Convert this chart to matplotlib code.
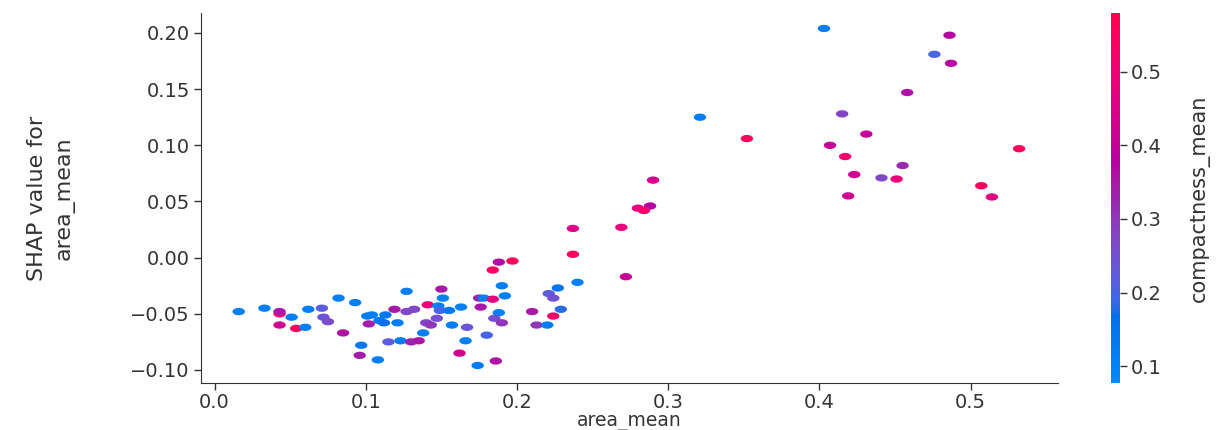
import numpy as np
import matplotlib
matplotlib.use("Agg")
import matplotlib.pyplot as plt
from matplotlib.colors import LinearSegmentedColormap
from matplotlib.path import Path
from matplotlib import font_manager

# ---------------- data ----------------
area_mean = [0.403, 0.321, 0.352, 0.415, 0.431, 0.407, 0.417, 0.423, 0.441, 0.419,
             0.486, 0.476, 0.487, 0.458, 0.532, 0.455, 0.451, 0.507, 0.514, 0.290,
             0.288, 0.280, 0.284, 0.237, 0.269, 0.237, 0.272, 0.240, 0.188, 0.197,
             0.184, 0.190, 0.227, 0.221, 0.224, 0.150, 0.151, 0.192, 0.175, 0.178,
             0.184, 0.141, 0.148, 0.149, 0.155, 0.176, 0.163, 0.210, 0.224, 0.229,
             0.188, 0.147, 0.185, 0.190, 0.157, 0.213, 0.220, 0.167, 0.180, 0.166,
             0.162, 0.186, 0.174, 0.082, 0.093, 0.127, 0.119, 0.127, 0.132, 0.101,
             0.104, 0.113, 0.109, 0.112, 0.121, 0.102, 0.140, 0.143, 0.138, 0.085,
             0.097, 0.115, 0.123, 0.130, 0.135, 0.096, 0.108, 0.016, 0.033, 0.043,
             0.043, 0.051, 0.062, 0.071, 0.072, 0.075, 0.043, 0.054, 0.060]
shap_area_mean = [0.204, 0.125, 0.106, 0.128, 0.110, 0.100, 0.090, 0.074, 0.071, 0.055,
                  0.198, 0.181, 0.173, 0.147, 0.097, 0.082, 0.070, 0.064, 0.054, 0.069,
                  0.046, 0.044, 0.042, 0.026, 0.027, 0.003, -0.017, -0.022, -0.004, -0.003,
                  -0.011, -0.025, -0.027, -0.032, -0.036, -0.028, -0.036, -0.034, -0.036, -0.036,
                  -0.037, -0.042, -0.043, -0.047, -0.047, -0.044, -0.044, -0.048, -0.052, -0.046,
                  -0.049, -0.054, -0.054, -0.058, -0.060, -0.060, -0.060, -0.062, -0.069, -0.074,
                  -0.085, -0.092, -0.096, -0.036, -0.040, -0.030, -0.046, -0.048, -0.046, -0.052,
                  -0.051, -0.051, -0.056, -0.058, -0.058, -0.059, -0.058, -0.060, -0.067, -0.067,
                  -0.078, -0.075, -0.074, -0.075, -0.074, -0.087, -0.091, -0.048, -0.045, -0.050,
                  -0.048, -0.053, -0.046, -0.045, -0.053, -0.057, -0.060, -0.063, -0.062]
compactness_mean = [0.12, 0.12, 0.55, 0.28, 0.40, 0.40, 0.52, 0.42, 0.27, 0.42,
                    0.37, 0.20, 0.37, 0.36, 0.56, 0.32, 0.48, 0.55, 0.46, 0.43,
                    0.37, 0.47, 0.52, 0.45, 0.48, 0.55, 0.40, 0.12, 0.36, 0.55,
                    0.53, 0.12, 0.15, 0.22, 0.25, 0.35, 0.12, 0.12, 0.33, 0.12,
                    0.47, 0.47, 0.12, 0.20, 0.14, 0.35, 0.12, 0.35, 0.52, 0.18,
                    0.12, 0.25, 0.25, 0.30, 0.12, 0.30, 0.13, 0.24, 0.20, 0.12,
                    0.42, 0.36, 0.13, 0.12, 0.12, 0.12, 0.35, 0.27, 0.27, 0.13,
                    0.13, 0.14, 0.13, 0.17, 0.13, 0.34, 0.28, 0.30, 0.12, 0.36,
                    0.14, 0.22, 0.13, 0.33, 0.35, 0.34, 0.12, 0.12, 0.12, 0.52,
                    0.35, 0.12, 0.12, 0.22, 0.24, 0.26, 0.43, 0.55, 0.12]

x_ticks = [0.0, 0.1, 0.2, 0.3, 0.4, 0.5]
y_ticks = [-0.10, -0.05, 0.00, 0.05, 0.10, 0.15, 0.20]
cbar_ticks = [0.1, 0.2, 0.3, 0.4, 0.5]


# ---------------- SHAP red_blue colormap (LCH interpolation) ----------------
def lch2rgb(L, C, H):
    a = C * np.cos(H)
    b = C * np.sin(H)
    fy = (L + 16) / 116.0
    fx = fy + a / 500.0
    fz = fy - b / 200.0
    d = 6 / 29

    def finv(t):
        return np.where(t > d, t ** 3, 3 * d * d * (t - 4 / 29))
    X = 0.95047 * finv(fx)
    Y = 1.0 * finv(fy)
    Z = 1.08883 * finv(fz)
    M = np.array([[3.2406, -1.5372, -0.4986],
                  [-0.9689, 1.8758, 0.0415],
                  [0.0557, -0.2040, 1.0570]])
    lin = M @ np.array([X, Y, Z])
    lin = np.clip(lin, 0, 1)
    rgb = np.where(lin <= 0.0031308, 12.92 * lin, 1.055 * lin ** (1 / 2.4) - 0.055)
    return np.clip(rgb, 0, 1)


blue_lch = [54., 70., 4.6588]
red_lch = [54., 90., 0.35470565 + 2 * np.pi]
l_mid = 40.
nsteps = 100
l_vals = list(np.linspace(blue_lch[0], l_mid, nsteps // 2)) + list(np.linspace(l_mid, red_lch[0], nsteps // 2))
c_vals = np.linspace(blue_lch[1], red_lch[1], nsteps)
h_vals = np.linspace(blue_lch[2], red_lch[2], nsteps)
cols = [lch2rgb(l, c, h) for l, c, h in zip(l_vals, c_vals, h_vals)]
red_blue = LinearSegmentedColormap.from_list("red_blue", cols)

# ---------------- fonts ----------------
names = {f.name for f in font_manager.fontManager.ttflist}
narrow = ['Liberation Sans Narrow', 'DejaVu Sans'] if 'Liberation Sans Narrow' in names else ['DejaVu Sans']
axis_color = "#333333"

# ellipse marker (wider than tall)
theta = np.linspace(0, 2 * np.pi, 40)
ell = Path(np.column_stack([1.7 * np.cos(theta), np.sin(theta)]), closed=True)

fig = plt.figure(figsize=(12.25, 4.3), dpi=100)
ax = fig.add_axes([0.164, 0.1093, 0.700, 0.8605])
cax = fig.add_axes([0.907, 0.1093, 0.0073, 0.8605])

sc = ax.scatter(area_mean, shap_area_mean, c=compactness_mean, cmap=red_blue,
                vmin=0.077, vmax=0.580, s=80, marker=ell, linewidths=0)

ax.set_xlim(-0.009, 0.558)
ax.set_ylim(-0.1116, 0.2178)
ax.set_xticks(x_ticks)
ax.set_yticks(y_ticks)
ax.set_xticklabels([f"{v:.1f}" for v in x_ticks])
ax.set_yticklabels([f"{v:.2f}".replace("-", "\u2212") for v in y_ticks])
for s in ["top", "right"]:
    ax.spines[s].set_visible(False)
for s in ["left", "bottom"]:
    ax.spines[s].set_color(axis_color)
ax.tick_params(axis="both", colors=axis_color, labelcolor=axis_color,
               labelsize=14, length=5, width=1, direction="out", pad=3)
ax.tick_params(axis="x", pad=2)
ax.set_xlabel("area_mean", fontsize=13.5, color=axis_color, labelpad=0)
ax.set_ylabel("SHAP value for\narea_mean", fontsize=16, color=axis_color,
              family=narrow, labelpad=40, linespacing=1.4)

cb = fig.colorbar(sc, cax=cax, ticks=cbar_ticks)
cb.outline.set_visible(False)
cb.ax.tick_params(labelsize=14, colors=axis_color, labelcolor=axis_color, length=5, width=1, pad=3)
cb.set_label("compactness_mean", fontsize=15, color=axis_color, family=narrow, labelpad=20)

fig.savefig("out.png", dpi=100)
